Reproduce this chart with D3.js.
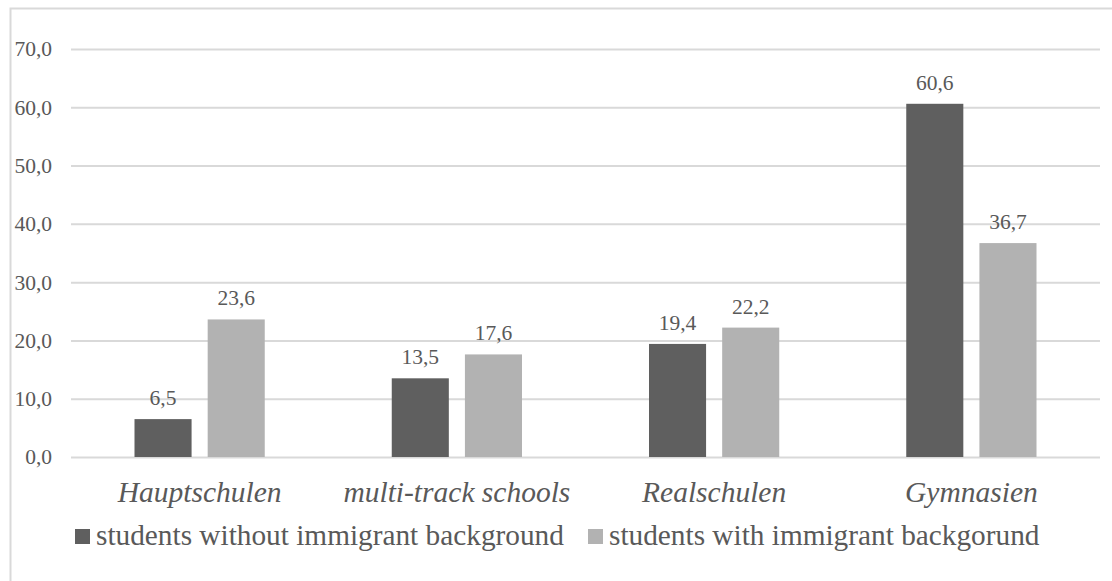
<!DOCTYPE html>
<html>
<head>
<meta charset="utf-8">
<script src="https://cdn.jsdelivr.net/npm/d3@7"></script>
<style>
    body { margin: 0; background: #fff; }
    svg { display: block; }
</style>
</head>
<body>
<svg id="chart"></svg>
<script>
const categories = ["Hauptschulen", "multi-track schools", "Realschulen", "Gymnasien"];
const seriesNames = ["students without immigrant background", "students with immigrant backgorund"];
const withoutBackground = [6.5, 13.5, 19.4, 60.6];
const withBackground = [23.6, 17.6, 22.2, 36.7];
const yTicks = [0, 10, 20, 30, 40, 50, 60, 70];
const colors = ["#5f5f5f", "#b2b2b2"];

const width = 1112;
const height = 581;
const textColor = "#595959";
const serif = "Liberation Serif";
const fmt = v => d3.format(".1f")(v).replace(".", ",");

let svg = d3.select("#chart").attr("width", width).attr("height", height);

// рамка
svg.append("rect")
    .attr("x", 10.5).attr("y", 8.5)
    .attr("width", width + 20).attr("height", height + 20)
    .attr("fill", "none")
    .attr("stroke", "#d9d9d9")
    .attr("stroke-width", 2);

let scaleX = d3.scaleBand().domain(categories).range([71, 1100]);
let scaleSeries = d3.scaleBand()
    .domain([0, 1])
    .range([63.5, scaleX.bandwidth() - 63.5])
    .paddingInner(0.22);
let scaleY = d3.scaleLinear().domain([0, 70]).range([457, 49]);

// сетка и ось Y
let axisY = d3.axisLeft(scaleY)
    .tickValues(yTicks)
    .tickSize(-(1100 - 71))
    .tickPadding(19)
    .tickFormat(fmt);

let gy = svg.append("g")
    .attr("transform", "translate(71,0)")
    .call(axisY)
    .attr("font-family", null);
gy.select(".domain").remove();
gy.selectAll("line").attr("stroke", "#d9d9d9").attr("stroke-width", 2);
gy.selectAll("text")
    .attr("fill", textColor)
    .attr("font-size", 21.5)
    .style("font-family", serif);

// данные
let rows = categories.map((c, i) => ({ cat: c, values: [withoutBackground[i], withBackground[i]] }));

let groups = svg.selectAll(".grp")
    .data(rows)
    .join("g")
    .attr("class", "grp")
    .attr("transform", d => "translate(" + scaleX(d.cat) + ",0)");

groups.selectAll("rect")
    .data(d => d.values.map((v, k) => ({ v, k })))
    .join("rect")
    .attr("x", d => scaleSeries(d.k))
    .attr("y", d => scaleY(d.v))
    .attr("width", scaleSeries.bandwidth())
    .attr("height", d => scaleY(0) - scaleY(d.v))
    .attr("fill", d => colors[d.k]);

groups.selectAll(".val")
    .data(d => d.values.map((v, k) => ({ v, k })))
    .join("text")
    .attr("class", "val")
    .attr("x", d => scaleSeries(d.k) + scaleSeries.bandwidth() / 2)
    .attr("y", d => scaleY(d.v) - 14)
    .attr("text-anchor", "middle")
    .attr("font-size", 21.5)
    .attr("fill", textColor)
    .style("font-family", serif)
    .text(d => fmt(d.v));

// подписи категорий
svg.selectAll(".cat")
    .data(categories)
    .join("text")
    .attr("class", "cat")
    .attr("x", d => scaleX(d) + scaleX.bandwidth() / 2)
    .attr("y", 502)
    .attr("text-anchor", "middle")
    .attr("font-size", 29.5)
    .attr("font-style", "italic")
    .attr("fill", textColor)
    .style("font-family", serif)
    .text(d => d);

// легенда
const legendX = [75, 588];
let legend = svg.selectAll(".leg")
    .data(seriesNames)
    .join("g")
    .attr("class", "leg")
    .attr("transform", (d, i) => "translate(" + legendX[i] + ",529)");

legend.append("rect")
    .attr("width", 15).attr("height", 15)
    .attr("fill", (d, i) => colors[i]);

legend.append("text")
    .attr("x", 21)
    .attr("y", 16)
    .attr("font-size", 29.3)
    .attr("fill", textColor)
    .style("font-family", serif)
    .text(d => d);
</script>
</body>
</html>
